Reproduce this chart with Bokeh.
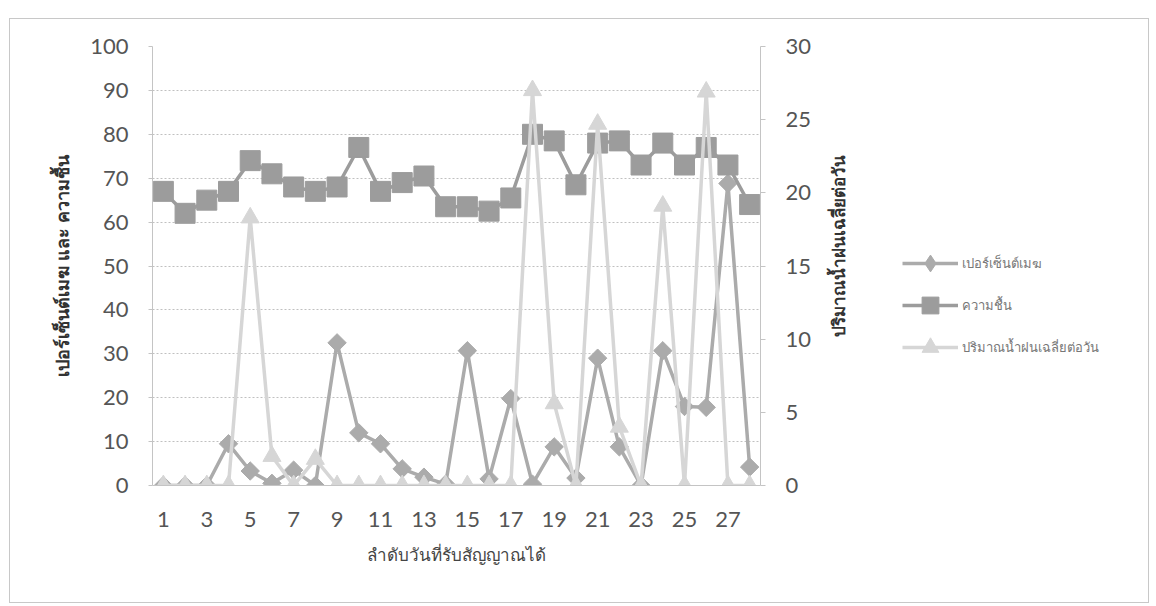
import math
from bokeh.plotting import figure
from bokeh.models import Range1d, LinearAxis, FixedTicker, Label, Legend
from bokeh.layouts import row
from bokeh.embed import file_html
from bokeh.resources import INLINE

days = list(range(1, 29))
cloud = [0, 0, 0, 9.5, 3.3, 0.5, 3.5, 0, 32.5, 12, 9.5, 3.8, 1.9, 0.3,
         30.7, 1.5, 19.8, 0.3, 8.8, 1.7, 29, 8.8, 0, 30.7, 18, 17.8, 68.8, 4.2]
humidity = [67, 62, 65, 67, 74, 71, 68, 67, 68, 77, 67, 69, 70.5, 63.5,
            63.5, 62.5, 65.5, 80, 78.5, 68.5, 78, 78.5, 73, 78, 73, 77, 73, 64]
rain = [0, 0, 0, 0, 18.3, 2.0, 0, 1.8, 0, 0, 0, 0, 0, 0,
        0, 0, 0, 27, 5.6, 0, 24.7, 4.0, 0, 19.1, 0, 26.9, 0, 0]
x_ticks = list(range(1, 28, 2))
left_ticks = list(range(0, 101, 10))
right_ticks = list(range(0, 31, 5))

series_names = ["เปอร์เซ็นต์เมฆ", "ความชื้น", "ปริมาณน้ำฝนเฉลี่ยต่อวัน"]
x_title = "ลำดับวันที่รับสัญญาณได้"
y_title = "เปอร์เซ็นต์เมฆ และ ความชื้น"
y2_title = "ปริมาณน้ำฝนเฉลี่ยต่อวัน"

C_CLOUD = "#ababab"
C_HUM = "#9c9c9c"
C_RAIN = "#d6d6d6"
TICK_FONT = "Lato"
THAI_FONT = "Noto Sans"

H = 583
W1 = 810
W2 = 328
FRAME_H = 439
B_TOP = 27
B_BOTTOM = H - B_TOP - FRAME_H

p = figure(width=W1, height=H, output_backend="svg", toolbar_location=None,
           x_range=Range1d(0.5, 28.5), y_range=Range1d(0, 100),
           min_border_left=142, min_border_right=60, min_border_top=B_TOP,
           min_border_bottom=B_BOTTOM)
p.extra_y_ranges = {"rain": Range1d(0, 30)}
p.outline_line_color = None
p.background_fill_color = "white"
p.border_fill_color = "white"

# grid
p.xgrid.grid_line_color = None
p.ygrid.ticker = FixedTicker(ticks=left_ticks)
p.ygrid.grid_line_color = "#c0c0c0"
p.ygrid.grid_line_dash = "2 2"
p.ygrid.grid_line_width = 1

# x axis
xa = p.xaxis[0]
xa.ticker = FixedTicker(ticks=x_ticks)
xa.axis_line_color = "#c4c4c4"
xa.major_tick_line_color = None
xa.minor_tick_line_color = None
xa.major_label_text_font = TICK_FONT
xa.major_label_text_font_size = "22px"
xa.major_label_text_color = "#555555"
xa.major_label_standoff = 20
xa.axis_label = x_title
xa.axis_label_text_font = THAI_FONT
xa.axis_label_text_font_size = "17px"
xa.axis_label_text_font_style = "normal"
xa.axis_label_text_color = "#444444"
xa.axis_label_standoff = 13

# left y axis
ya = p.yaxis[0]
ya.ticker = FixedTicker(ticks=left_ticks)
ya.axis_line_color = "#c4c4c4"
ya.major_tick_line_color = "#c4c4c4"
ya.major_tick_out = 4
ya.major_tick_in = 0
ya.minor_tick_line_color = None
ya.major_label_text_font = TICK_FONT
ya.major_label_text_font_size = "22px"
ya.major_label_text_color = "#555555"
ya.major_label_standoff = 20
ya.axis_label = y_title
ya.axis_label_text_font = THAI_FONT
ya.axis_label_text_font_size = "18px"
ya.axis_label_text_font_style = "bold"
ya.axis_label_text_color = "#333333"
ya.axis_label_standoff = 13

# right y axis
ra = LinearAxis(y_range_name="rain", ticker=FixedTicker(ticks=right_ticks))
ra.axis_line_color = "#c4c4c4"
ra.major_tick_line_color = "#c4c4c4"
ra.major_tick_out = 5
ra.major_tick_in = 0
ra.minor_tick_line_color = None
ra.major_label_text_font = TICK_FONT
ra.major_label_text_font_size = "22px"
ra.major_label_text_color = "#555555"
ra.major_label_standoff = 20
p.add_layout(ra, "right")

# series
p.line(days, cloud, line_color=C_CLOUD, line_width=3.5)
p.scatter(days, cloud, marker="square", angle=math.pi / 4, size=13,
          fill_color=C_CLOUD, line_color=C_CLOUD)
p.line(days, humidity, line_color=C_HUM, line_width=3.5)
p.scatter(days, humidity, marker="square", size=20,
          fill_color=C_HUM, line_color=C_HUM)
p.line(days, rain, line_color=C_RAIN, line_width=3.5, y_range_name="rain")
p.scatter(days, rain, marker="triangle", size=18, y_range_name="rain",
          fill_color=C_RAIN, line_color=C_RAIN)

# side panel: right-axis title and legend (frame aligned with main frame)
p2 = figure(width=W2, height=H, output_backend="svg", toolbar_location=None,
            x_range=Range1d(0, W2), y_range=Range1d(0, FRAME_H),
            x_axis_type=None, y_axis_type=None,
            min_border_left=0, min_border_right=0, min_border_top=B_TOP,
            min_border_bottom=B_BOTTOM)
p2.grid.grid_line_color = None
p2.outline_line_color = None
p2.background_fill_color = "white"
p2.border_fill_color = "white"

p2.add_layout(Label(x=18, y=240, text=y2_title, angle=math.pi / 2,
                    text_align="center", text_baseline="middle",
                    text_font=THAI_FONT, text_font_size="17px",
                    text_font_style="bold", text_color="#333333"))

nan = [float("nan")]
l1 = p2.line(nan, nan, line_color=C_CLOUD, line_width=3.5)
m1 = p2.scatter(nan, nan, marker="diamond", size=16,
                fill_color=C_CLOUD, line_color=C_CLOUD)
l2 = p2.line(nan, nan, line_color=C_HUM, line_width=3.5)
m2 = p2.scatter(nan, nan, marker="square", size=16,
                fill_color=C_HUM, line_color=C_HUM)
l3 = p2.line(nan, nan, line_color=C_RAIN, line_width=3.5)
m3 = p2.scatter(nan, nan, marker="triangle", size=16,
                fill_color=C_RAIN, line_color=C_RAIN)

legend = Legend(items=[(series_names[0], [l1, m1]),
                       (series_names[1], [l2, m2]),
                       (series_names[2], [l3, m3])],
                location=(82, 117))
legend.glyph_width = 56
legend.glyph_height = 42
legend.label_height = 42
legend.spacing = 0
legend.padding = 0
legend.margin = 0
legend.label_standoff = 4
legend.border_line_color = None
legend.background_fill_alpha = 0
legend.label_text_font = THAI_FONT
legend.label_text_font_size = "13px"
legend.label_text_color = "#777777"
p2.add_layout(legend, "center")

lay = row(p, p2)
lay.styles = {"border": "1px solid #c8c8c8", "margin-left": "9px",
              "margin-top": "18px"}

open("out.html", "w").write(file_html(lay, INLINE))
